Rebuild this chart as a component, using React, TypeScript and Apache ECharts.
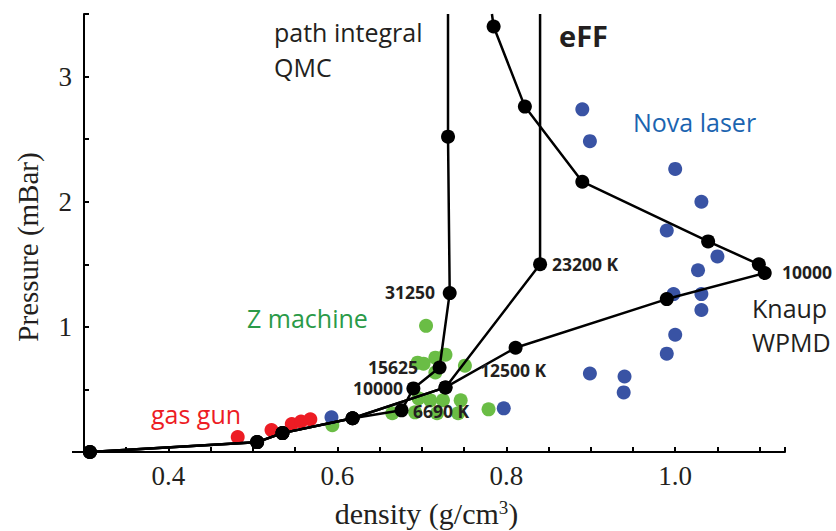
import React, { useEffect, useRef } from "react";
import * as echarts from "echarts";

// ---- data (density g/cm3, pressure mBar) ----
const gasGun: [number, number][] = [
  [0.482, 0.119], [0.522, 0.175], [0.546, 0.224], [0.557, 0.244], [0.568, 0.262],
];
const zMachine: [number, number][] = [
  [0.705, 1.008], [0.695, 0.714], [0.702, 0.706], [0.716, 0.754], [0.728, 0.778],
  [0.716, 0.635], [0.751, 0.690], [0.696, 0.429], [0.710, 0.413], [0.725, 0.413],
  [0.746, 0.413], [0.665, 0.310], [0.692, 0.317], [0.718, 0.310], [0.743, 0.310],
  [0.779, 0.341], [0.594, 0.214],
];
const novaLaser: [number, number][] = [
  [0.890, 2.738], [0.899, 2.484], [1.000, 2.262], [1.031, 2.000], [0.990, 1.770],
  [1.050, 1.563], [1.027, 1.452], [0.998, 1.262], [1.031, 1.262], [1.031, 1.135],
  [1.000, 0.937], [0.990, 0.786], [0.899, 0.627], [0.940, 0.603], [0.939, 0.476],
  [0.593, 0.278], [0.797, 0.349],
];
const qmcLine: [number, number][] = [
  [0.307, 0], [0.505, 0.079], [0.535, 0.151], [0.618, 0.27], [0.676, 0.333],
  [0.690, 0.508], [0.721, 0.675], [0.733, 1.27], [0.731, 2.52], [0.731, 3.5],
];
const effLine: [number, number][] = [
  [0.307, 0], [0.505, 0.079], [0.535, 0.151], [0.618, 0.27], [0.728, 0.516],
  [0.840, 1.50], [0.840, 3.5],
];
const wpmdLine: [number, number][] = [
  [0.307, 0], [0.505, 0.079], [0.535, 0.151], [0.618, 0.27], [0.728, 0.516],
  [0.811, 0.833], [0.990, 1.222], [1.106, 1.43], [1.099, 1.50], [1.039, 1.683],
  [0.890, 2.16], [0.822, 2.76], [0.785, 3.40], [0.783, 3.5],
];
const xTickLabels = ["0.4", "0.6", "0.8", "1.0"];
const yTickLabels = ["1", "2", "3"];

const SANS = "'Open Sans', 'Noto Sans', sans-serif";
const SERIF = "'Liberation Serif', 'DejaVu Serif', serif";
const INK = "#231f20";

function lineData(pts: [number, number][]) {
  return pts.map((p) =>
    p[1] >= 3.5 ? { value: p, symbol: "none" } : { value: p }
  );
}

function txt(text: string, x: number, y: number, size: number, fill: string, bold = false, align = "left") {
  return {
    type: "text",
    x,
    y,
    z: 10,
    style: {
      text,
      fill,
      font: `${bold ? "bold " : ""}${size}px ${SANS}`,
      textAlign: align,
      align,
      textVerticalAlign: "middle",
      verticalAlign: "middle",
    },
  };
}

export default function App() {
  const ref = useRef<HTMLDivElement>(null);
  useEffect(() => {
    if (!ref.current) return;
    const chart = echarts.init(ref.current, undefined, { renderer: "svg" });
    const lineSeries = (name: string, pts: [number, number][]) => ({
      name,
      type: "line",
      data: lineData(pts),
      symbol: "circle",
      symbolSize: 14,
      z: 5,
      itemStyle: { color: "#000" },
      lineStyle: { color: "#000", width: 2.5 },
    });
    const scatter = (name: string, pts: [number, number][], color: string) => ({
      name,
      type: "scatter",
      data: pts,
      symbolSize: 14,
      z: 2,
      itemStyle: { color, opacity: 1 },
    });
    chart.setOption({
      animation: false,
      grid: { left: 84, right: 51, top: 14, bottom: 79, containLabel: false, outerBoundsMode: "none" },
      xAxis: {
        type: "value",
        min: 0.3,
        max: 1.13,
        interval: 0.05,
        name: "density (g/cm{sup|3})",
        nameLocation: "middle",
        nameGap: 46,
        nameTextStyle: {
          fontFamily: SERIF,
          fontSize: 30,
          lineHeight: 30,
          color: INK,
          padding: [0, 16, 0, 0],
          rich: { sup: { fontFamily: SERIF, fontSize: 19, lineHeight: 19, color: INK, verticalAlign: "top", padding: [0, 0, 10, 0] } },
        },
        axisLine: { show: true, onZero: false, lineStyle: { color: "#000", width: 2 } },
        axisTick: { show: true, inside: true, length: 5, lineStyle: { color: "#000", width: 2 } },
        splitLine: { show: false },
        axisLabel: {
          fontFamily: SERIF,
          fontSize: 27,
          color: INK,
          margin: 10,
          formatter: (v: number) => {
            const s = v.toFixed(1);
            const k = Math.round(v * 100);
            return k % 20 === 0 && xTickLabels.includes(s) ? s : "";
          },
        },
      },
      yAxis: {
        type: "value",
        min: 0,
        max: 3.5,
        interval: 0.5,
        name: "Pressure (mBar)",
        nameLocation: "middle",
        nameGap: 42,
        nameTextStyle: { fontFamily: SERIF, fontSize: 29, color: INK, padding: [0, 28, 0, 0] },
        axisLine: { show: true, lineStyle: { color: "#000", width: 2 } },
        axisTick: { show: true, inside: true, length: 5, lineStyle: { color: "#000", width: 2 } },
        splitLine: { show: false },
        axisLabel: {
          fontFamily: SERIF,
          fontSize: 27,
          color: INK,
          margin: 12,
          formatter: (v: number) => (yTickLabels.includes(String(v)) ? String(v) : ""),
        },
      },
      series: [
        scatter("gas gun", gasGun, "#ed1c24"),
        scatter("Z machine", zMachine, "#6abd45"),
        scatter("Nova laser", novaLaser, "#3953a4"),
        lineSeries("path integral QMC", qmcLine),
        lineSeries("eFF", effLine),
        lineSeries("Knaup WPMD", wpmdLine),
      ],
      graphic: [
        { type: "line", shape: { x1: 72, y1: 452, x2: 85, y2: 452 }, style: { stroke: "#000", lineWidth: 2 } },
        txt("path integral", 274, 32, 25, INK),
        txt("QMC", 274, 67, 25, INK),
        txt("eFF", 559, 35, 29, INK, true),
        txt("Nova laser", 633, 122, 25, "#1b64b0"),
        txt("Z machine", 247, 318, 25, "#2a9a48"),
        txt("gas gun", 151, 414, 25, "#ed1c24"),
        txt("Knaup", 752, 308, 25, INK),
        txt("WPMD", 752, 342, 25, INK),
        txt("31250", 435, 292, 17.5, INK, true, "right"),
        txt("15625", 418, 367, 17.5, INK, true, "right"),
        txt("10000", 403, 388, 17.5, INK, true, "right"),
        txt("6690 K", 413, 411, 17.5, INK, true),
        txt("12500 K", 480, 370, 17.5, INK, true),
        txt("23200 K", 552, 264, 17.5, INK, true),
        txt("10000", 782, 272, 17.5, INK, true),
      ],
    });
    return () => chart.dispose();
  }, []);
  return (
    <div
      ref={ref}
      style={{ position: "absolute", left: 0, top: 0, width: 836, height: 531, background: "#fff" }}
    />
  );
}
